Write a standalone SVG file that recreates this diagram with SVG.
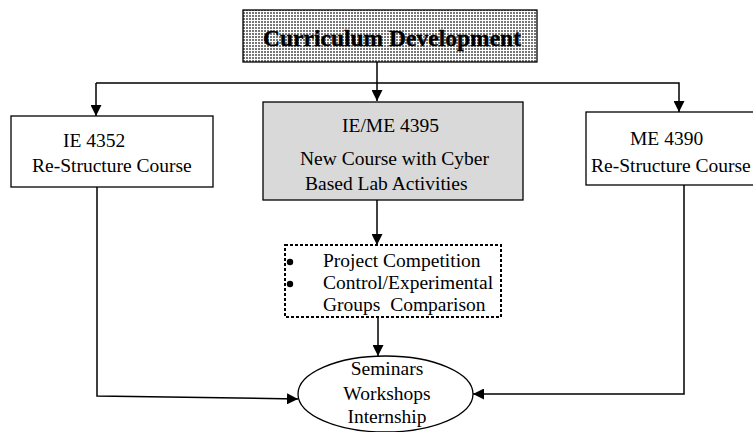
<svg xmlns="http://www.w3.org/2000/svg" width="753" height="432" viewBox="0 0 753 432">
<defs>
<pattern id="dots" width="3" height="3" patternUnits="userSpaceOnUse">
<rect width="3" height="3" fill="#ffffff"/>
<rect x="0" y="0" width="2" height="2" fill="#777"/>
</pattern>
<marker id="arr" viewBox="0 0 10 10" refX="10" refY="5" markerWidth="11" markerHeight="11" markerUnits="userSpaceOnUse" orient="auto">
<path d="M0,0 L10,5 L0,10 Z" fill="#000"/>
</marker>
</defs>
<style>
text{font-family:"Liberation Serif","Times New Roman",serif;font-size:19.5px;fill:#000}
.box{stroke:#000;stroke-width:1.3}
.ln{fill:none;stroke:#000;stroke-width:1.5}
.title{font-weight:bold;font-size:23px;stroke:#000;stroke-width:0.4}
</style>
<g id="connectors">
<polyline class="ln" points="377,62 377,101" marker-end="url(#arr)"/>
<polyline class="ln" points="96,83 679,83 679,112" marker-end="url(#arr)"/>
<line class="ln" x1="96" y1="83" x2="96" y2="116" marker-end="url(#arr)"/>
<line class="ln" x1="377" y1="200" x2="377" y2="245" marker-end="url(#arr)"/>
<line class="ln" x1="378" y1="317" x2="378" y2="356" marker-end="url(#arr)"/>
<polyline class="ln" points="97,187 97,396 298,399" marker-end="url(#arr)"/>
<polyline class="ln" points="684,185 684,394 473,394" marker-end="url(#arr)"/>
</g>
<g id="curriculum">
<rect class="box" x="243" y="10" width="294" height="52" fill="url(#dots)" stroke-width="1.8"/>
<text class="title" x="392" y="46" text-anchor="middle" textLength="258" lengthAdjust="spacingAndGlyphs">Curriculum Development</text>
</g>
<g id="ie4352">
<rect class="box" x="11" y="116" width="202" height="71" fill="#fff"/>
<text x="63" y="147">IE 4352</text>
<text x="32" y="172">Re-Structure Course</text>
</g>
<g id="ieme4395">
<rect class="box" x="263" y="102" width="260" height="98" fill="#d9d9d9"/>
<text x="342" y="132">IE/ME 4395</text>
<text x="300" y="165">New Course with Cyber</text>
<text x="305" y="190">Based Lab Activities</text>
</g>
<g id="me4390">
<rect class="box" x="586" y="112" width="200" height="73" fill="#fff"/>
<text x="630" y="145">ME 4390</text>
<text x="591" y="172">Re-Structure Course</text>
</g>
<g id="project">
<rect x="285" y="245" width="216" height="72" fill="#fff" stroke="#000" stroke-width="2" stroke-dasharray="3,2"/>
<circle cx="290" cy="262" r="3.2" fill="#000"/>
<circle cx="290" cy="284" r="3.2" fill="#000"/>
<text x="323" y="267">Project Competition</text>
<text x="323" y="289">Control/Experimental</text>
<text x="323" y="311" xml:space="preserve">Groups  Comparison</text>
</g>
<g id="seminars">
<ellipse cx="385.5" cy="394" rx="87.5" ry="38" fill="#fff" stroke="#000" stroke-width="1.3"/>
<text x="387" y="375" text-anchor="middle">Seminars</text>
<text x="387" y="400" text-anchor="middle">Workshops</text>
<text x="387" y="423" text-anchor="middle">Internship</text>
</g>
</svg>
